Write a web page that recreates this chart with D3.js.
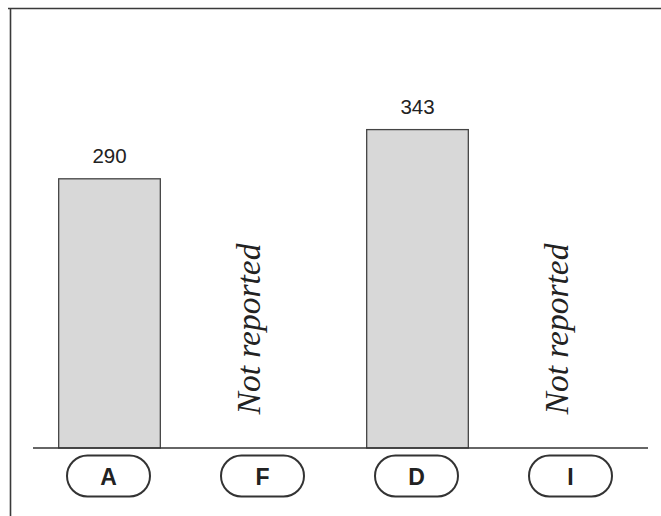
<!DOCTYPE html>
<html>
<head>
<meta charset="utf-8">
<script src="https://cdn.jsdelivr.net/npm/d3@7"></script>
<style>
  html, body { margin: 0; padding: 0; background: #ffffff; }
  svg { display: block; }
</style>
</head>
<body>
<svg id="chart" width="661" height="516"></svg>
<script>
// ---- data ----
const categories = ["A", "F", "D", "I"];
const values = [290, null, 343, null];
const missingLabel = "Not reported";
const yMax = 474;

// ---- layout ----
const W = 661, H = 516;
const svg = d3.select("#chart");

const x = d3.scaleBand()
  .domain(categories)
  .range([32.5, 648.5])
  .paddingInner(0.34)
  .paddingOuter(0.17);

const y = d3.scaleLinear()
  .domain([0, yMax])
  .range([448, 8]);

// frame (top and left lines)
svg.append("path")
  .attr("d", `M8,8.5 H${W} M10.5,8 V${H}`)
  .attr("fill", "none")
  .attr("stroke", "#3a3a3a")
  .attr("stroke-width", 1.6);

const data = categories.map((c, i) => ({ cat: c, value: values[i] }));

// bars
svg.selectAll("rect.bar")
  .data(data.filter(d => d.value != null))
  .join("rect")
  .attr("class", "bar")
  .attr("x", d => x(d.cat))
  .attr("y", d => y(d.value))
  .attr("width", x.bandwidth())
  .attr("height", d => y(0) - y(d.value))
  .attr("fill", "#d8d8d8")
  .attr("stroke", "#444")
  .attr("stroke-width", 1.3);

// value labels
svg.selectAll("text.val")
  .data(data.filter(d => d.value != null))
  .join("text")
  .attr("class", "val")
  .attr("x", d => x(d.cat) + x.bandwidth() / 2)
  .attr("y", d => y(d.value) - 16)
  .attr("text-anchor", "middle")
  .attr("font-family", "Liberation Sans, Arial, sans-serif")
  .attr("font-size", 20.5)
  .attr("fill", "#222")
  .text(d => d.value);

// not reported labels
svg.selectAll("text.nr")
  .data(data.filter(d => d.value == null))
  .join("text")
  .attr("class", "nr")
  .attr("transform", d => `translate(${x(d.cat) + x.bandwidth() / 2 - 4},329) rotate(-90)`)
  .attr("text-anchor", "middle")
  .attr("font-family", "Liberation Serif, Times New Roman, serif")
  .attr("font-style", "italic")
  .attr("font-size", 33.5)
  .attr("fill", "#222")
  .text(missingLabel);

// baseline axis
svg.append("line")
  .attr("x1", 33).attr("x2", 648)
  .attr("y1", y(0)).attr("y2", y(0))
  .attr("stroke", "#333")
  .attr("stroke-width", 1.6);

// category pills
const pills = svg.selectAll("g.pill")
  .data(categories)
  .join("g")
  .attr("class", "pill")
  .attr("transform", d => `translate(${x(d) + x.bandwidth() / 2 - 1},476)`);

pills.append("rect")
  .attr("x", -41.5).attr("y", -20.5)
  .attr("width", 83).attr("height", 41)
  .attr("rx", 20.5).attr("ry", 20.5)
  .attr("fill", "#fff")
  .attr("stroke", "#333")
  .attr("stroke-width", 2);

pills.append("text")
  .attr("y", 8.5)
  .attr("text-anchor", "middle")
  .attr("font-family", "Liberation Sans, Arial, sans-serif")
  .attr("font-weight", "bold")
  .attr("font-size", 23)
  .attr("fill", "#222")
  .text(d => d);
</script>
</body>
</html>
